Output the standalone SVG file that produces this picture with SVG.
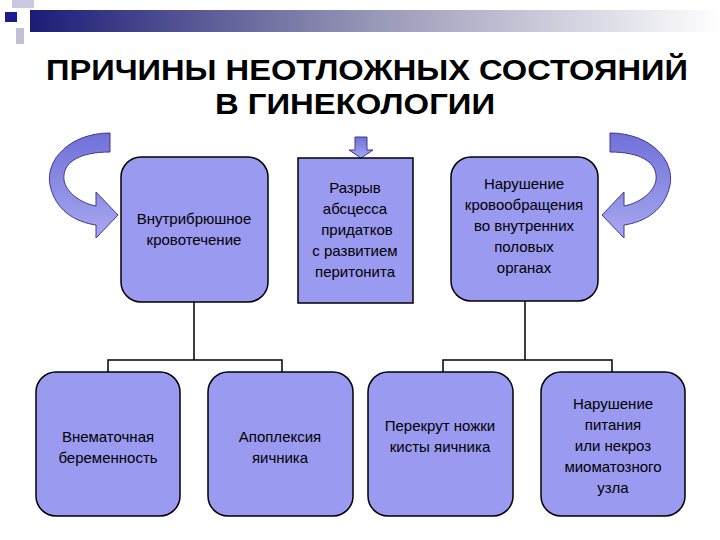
<svg xmlns="http://www.w3.org/2000/svg" width="720" height="540" viewBox="0 0 720 540">
<defs>
<linearGradient id="g" x1="0" x2="1" y1="0" y2="0"><stop offset="0" stop-color="#1c1c78"/><stop offset="0.5" stop-color="#9898b8"/><stop offset="1" stop-color="#ffffff"/></linearGradient>
<linearGradient id="ca" x1="0" x2="0" y1="0" y2="1"><stop offset="0" stop-color="#7070d8"/><stop offset="1" stop-color="#a8a8f0"/></linearGradient>
</defs>
<style>
.n{fill:#9a9af0;stroke:#000;stroke-width:1.5}
.t{font-family:"Liberation Sans",Arial,sans-serif;font-size:15px;text-anchor:middle;fill:#000}
.h{font-family:"Liberation Sans",Arial,sans-serif;font-size:29px;font-weight:bold;text-anchor:middle;fill:#000}
.c{fill:none;stroke:#000;stroke-width:1.5}
.a{fill:url(#ca);stroke:#3a3a90;stroke-width:1}
</style>
<rect width="720" height="540" fill="#fff"/>
<g id="header">
<rect x="12" y="0" width="22" height="8" fill="#c8c8e0"/>
<rect x="30" y="10" width="690" height="22" fill="url(#g)"/>
<rect x="5" y="12" width="12" height="10" fill="#1c1c90"/>
<rect x="16" y="28" width="8" height="16" fill="#c0c0d8"/>
</g>
<text class="h" x="367" y="80" textLength="642" lengthAdjust="spacingAndGlyphs">ПРИЧИНЫ НЕОТЛОЖНЫХ СОСТОЯНИЙ</text>
<text class="h" x="355" y="114" textLength="280" lengthAdjust="spacingAndGlyphs">В ГИНЕКОЛОГИИ</text>
<g id="arrows">
<path class="a" d="M110,133 C70,133 45,160 50,185 C55,210 75,222 96,225 L96,238 L118,215 L96,192 L96,206 C80,203 66,192 64,180 C62,162 80,152 110,152 Z"/>
<path class="a" d="M610,133 C650,133 675,160 670,185 C665,210 645,222 624,225 L624,238 L602,215 L624,192 L624,206 C640,203 654,192 656,180 C658,162 640,152 610,152 Z"/>
<path class="a" d="M355,137 L367,137 L367,150 L373,150 L361,158 L349,150 L355,150 Z"/>
</g>
<g id="connectors">
<path class="c" d="M194,302 V360 M108,372 V360 H282 V372"/>
<path class="c" d="M525,301 V360 M443,372 V360 H612 V372"/>
</g>
<g id="n1"><rect class="n" x="121" y="157" width="147" height="145" rx="20"/>
<text class="t" x="194" y="224">Внутрибрюшное</text><text class="t" x="194" y="245">кровотечение</text></g>
<g id="n2"><rect class="n" x="298" y="158" width="115" height="145"/>
<text class="t" x="355" y="193">Разрыв</text><text class="t" x="355" y="214">абсцесса</text><text class="t" x="357" y="235">придатков</text><text class="t" x="355" y="256">с развитием</text><text class="t" x="355" y="277">перитонита</text></g>
<g id="n3"><rect class="n" x="451" y="157" width="147" height="144" rx="20"/>
<text class="t" x="524" y="189">Нарушение</text><text class="t" x="524" y="210">кровообращения</text><text class="t" x="524" y="231">во внутренних</text><text class="t" x="524" y="252">половых</text><text class="t" x="524" y="273">органах</text></g>
<g id="n4"><rect class="n" x="36" y="372" width="144" height="144" rx="20"/>
<text class="t" x="108" y="442">Внематочная</text><text class="t" x="108" y="463">беременность</text></g>
<g id="n5"><rect class="n" x="208" y="372" width="145" height="144" rx="20"/>
<text class="t" x="280" y="442">Апоплексия</text><text class="t" x="280" y="463">яичника</text></g>
<g id="n6"><rect class="n" x="368" y="372" width="145" height="144" rx="20"/>
<text class="t" x="440" y="431">Перекрут ножки</text><text class="t" x="440" y="452">кисты яичника</text></g>
<g id="n7"><rect class="n" x="541" y="372" width="144" height="144" rx="20"/>
<text class="t" x="613" y="409">Нарушение</text><text class="t" x="613" y="430">питания</text><text class="t" x="613" y="451">или некроз</text><text class="t" x="613" y="472">миоматозного</text><text class="t" x="613" y="493">узла</text></g>
</svg>
